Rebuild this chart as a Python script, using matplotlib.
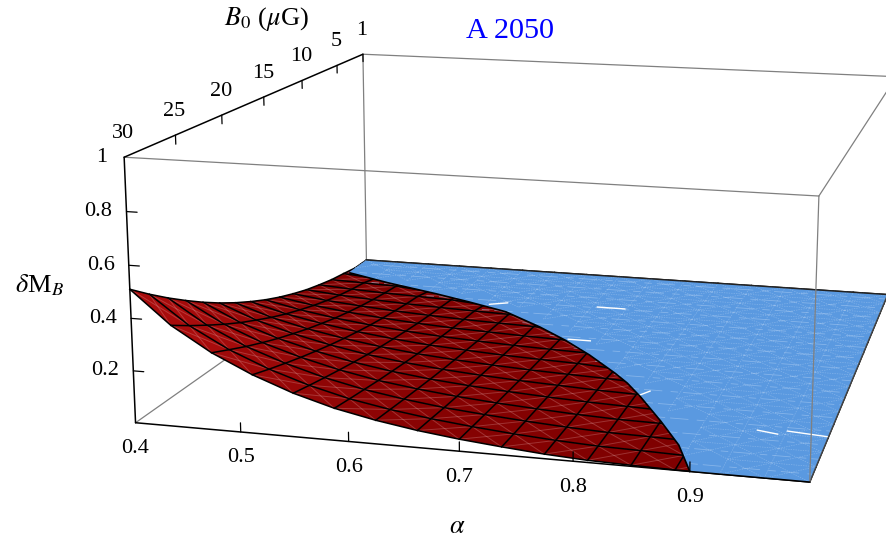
import numpy as np
import matplotlib
matplotlib.use("Agg")
import matplotlib.pyplot as plt
from matplotlib.colors import to_rgb
from mpl_toolkits.mplot3d import proj3d
from mpl_toolkits.mplot3d.art3d import Poly3DCollection, Line3DCollection

plt.rcParams["font.family"] = ["Liberation Serif", "DejaVu Serif"]
plt.rcParams["mathtext.fontset"] = "stix"

alpha_ticks = [0.4, 0.5, 0.6, 0.7, 0.8, 0.9]
b0_ticks = [30, 25, 20, 15, 10, 5, 1]
z_ticks = [0.2, 0.4, 0.6, 0.8, 1]

# mesh nodes of the surface
alpha_nodes = [0.4, 0.4375, 0.475, 0.5125, 0.55, 0.5875, 0.625, 0.6625, 0.7,
               0.7375, 0.775, 0.8125, 0.85, 0.8875, 0.925, 0.9625, 1.0]
b0_nodes = [1, 2.8125, 4.625, 6.4375, 8.25, 10.0625, 11.875, 13.6875, 15.5,
            17.3125, 19.125, 20.9375, 22.75, 24.5625, 26.375, 28.1875, 30]

# delta M_B, one row per alpha node
z_table = np.array([
    [0, 0, 0.012, 0.023, 0.039, 0.057, 0.08, 0.106, 0.136, 0.17, 0.207, 0.248, 0.293, 0.342, 0.394, 0.45, 0.51],
    [0, 0, 0, 0.018, 0.029, 0.043, 0.06, 0.08, 0.103, 0.128, 0.156, 0.188, 0.221, 0.258, 0.298, 0.34, 0.385],
    [0, 0, 0, 0.013, 0.022, 0.033, 0.046, 0.061, 0.078, 0.098, 0.119, 0.143, 0.168, 0.196, 0.226, 0.259, 0.293],
    [0, 0, 0, 0, 0.017, 0.025, 0.035, 0.046, 0.059, 0.074, 0.09, 0.108, 0.128, 0.149, 0.172, 0.196, 0.222],
    [0, 0, 0, 0, 0.012, 0.019, 0.026, 0.034, 0.044, 0.055, 0.067, 0.08, 0.095, 0.111, 0.128, 0.146, 0.165],
    [0, 0, 0, 0, 0, 0.014, 0.019, 0.025, 0.032, 0.04, 0.049, 0.059, 0.07, 0.081, 0.094, 0.107, 0.121],
    [0, 0, 0, 0, 0, 0.01, 0.014, 0.019, 0.024, 0.03, 0.036, 0.043, 0.051, 0.06, 0.069, 0.079, 0.089],
    [0, 0, 0, 0, 0, 0, 0.01, 0.013, 0.017, 0.021, 0.026, 0.031, 0.037, 0.043, 0.049, 0.057, 0.064],
    [0, 0, 0, 0, 0, 0, 0, 0.009, 0.012, 0.015, 0.018, 0.022, 0.026, 0.03, 0.035, 0.04, 0.045],
    [0, 0, 0, 0, 0, 0, 0, 0, 0.008, 0.01, 0.012, 0.015, 0.017, 0.02, 0.023, 0.026, 0.03],
    [0, 0, 0, 0, 0, 0, 0, 0, 0, 0, 0.007, 0.008, 0.01, 0.011, 0.013, 0.015, 0.017],
    [0, 0, 0, 0, 0, 0, 0, 0, 0, 0, 0, 0.004, 0.005, 0.005, 0.006, 0.007, 0.008],
    [0, 0, 0, 0, 0, 0, 0, 0, 0, 0, 0, 0, 0, 0.003, 0.003, 0.004, 0.004],
    [0, 0, 0, 0, 0, 0, 0, 0, 0, 0, 0, 0, 0, 0, 0, 0, 0.001],
    [0] * 17,
    [0] * 17,
    [0] * 17,
])

# where the surface meets the floor
edge_alpha = [0.402, 0.4575, 0.524, 0.567, 0.617, 0.667, 0.704, 0.74, 0.778, 0.796, 0.817, 0.85, 0.878, 0.9]
edge_b0 = [3.9, 5.35, 6.84, 7.9, 9.25, 11.5, 13.4, 15.5, 18.0, 19.3, 21.1, 24.2, 27.0, 30.0]

# white gaps in the floor
gap_alpha = [(0.937, 0.956), (0.963, 0.999), (0.706, 0.736), (0.592, 0.609), (0.706, 0.729), (0.815, 0.822)]
gap_b0 = [(24.3, 24.6), (24.1, 24.4), (7.2, 7.2), (8.1, 7.6), (13.2, 13.2), (20.9, 20.2)]

GRAY = "#808080"
RED_DARK = np.array(to_rgb("#7e0000"))
RED_LIGHT = np.array(to_rgb("#a80c0c"))
BLUE = "#5a99e0"
PALE = "#a9cbf2"

fig = plt.figure(figsize=(8.86, 5.44), dpi=100)

# camera found by fitting the box corners of the reference, axes rect in pixels
left, right = 550.621 - 4817.554 * 0.095, 550.621 + 4817.554 * 0.09
top, bottom = 233.952 - 4817.554 * 0.09, 233.952 + 4817.554 * 0.095
ax = fig.add_axes([left / 886, (544 - bottom) / 544, (right - left) / 886, (bottom - top) / 544],
                  projection="3d", computed_zorder=False)
ax.set_xlim(0.4, 1)
ax.set_ylim(30, 1)
ax.set_zlim(0, 1)
ax.view_init(13.2436, -75.5849, -0.1753)
ax.set_proj_type("persp", focal_length=0.4497)
ax.set_box_aspect((2.499, 2.5882, 1.0))
ax.set_axis_off()


def edge(p, q, color=GRAY, lw=0.9, z=1):
    ax.plot(*zip(p, q), color=color, lw=lw, zorder=z, solid_capstyle="round")


def label(p, text, dx, dy, ha="center", size=16):
    x, y, _ = proj3d.proj_transform(*p, ax.get_proj())
    ax.annotate(text, (x, y), xycoords="data", xytext=(dx * 0.72, dy * 0.72),
                textcoords="offset points", ha=ha, va="center", fontsize=size, zorder=20)


A, B, C, D = (0.4, 30, 1), (0.4, 1, 1), (1, 30, 1), (1, 1, 1)
E, F, G, H = (0.4, 30, 0), (0.4, 1, 0), (1, 30, 0), (1, 1, 0)

for p, q in [(A, C), (B, D), (C, D), (B, F), (E, F), (D, H)]:
    edge(p, q)

# red surface, brighter where it is steep
aa, bb = np.meshgrid(alpha_nodes, b0_nodes, indexing="ij")
slope = np.abs(np.gradient(z_table, alpha_nodes, axis=0))
shade = np.clip(slope / 2.5, 0, 1)[..., None]
face = RED_DARK * (1 - shade) + RED_LIGHT * shade
ax.plot_surface(aa, bb, z_table, facecolors=face, rstride=1, cstride=1, shade=False,
                linewidth=0, antialiased=True, zorder=2)

# pale seams between the triangles
seams = []
for i in range(16):
    for j in range(16):
        p00 = (aa[i, j], bb[i, j], z_table[i, j])
        p01 = (aa[i, j + 1], bb[i, j + 1], z_table[i, j + 1])
        p10 = (aa[i + 1, j], bb[i + 1, j], z_table[i + 1, j])
        p11 = (aa[i + 1, j + 1], bb[i + 1, j + 1], z_table[i + 1, j + 1])
        seams.append([p00, p11])
        seams.append([p10, p01])
ax.add_collection3d(Line3DCollection(seams, colors="#e8b0b0", linewidths=0.7, alpha=0.28, zorder=3))

# black mesh
for i in range(17):
    ax.plot(aa[i], bb[i], z_table[i], color="k", lw=1.1, zorder=4)
for j in range(17):
    ax.plot(aa[:, j], bb[:, j], z_table[:, j], color="k", lw=1.1, zorder=4)

# blue floor painted over the part where the surface is zero
floor = [(a, b, 0) for a, b in zip(edge_alpha, edge_b0)] + [G, H, F, (0.4, edge_b0[0], 0)]
ax.add_collection3d(Poly3DCollection([floor], facecolors=BLUE, edgecolors="none", zorder=5))

# texture on the floor, only on the blue side of the edge
floor_seams = []
for i in range(16):
    b_edge = np.interp(alpha_nodes[i], edge_alpha, edge_b0, right=99)
    for j in range(16):
        if b0_nodes[j + 1] > b_edge and alpha_nodes[i] < 0.9:
            continue
        a0, a1 = alpha_nodes[i], alpha_nodes[i + 1]
        b0, b1 = b0_nodes[j], b0_nodes[j + 1]
        floor_seams.append([(a0, b0, 0), (a1, b1, 0)])
        floor_seams.append([(a1, b0, 0), (a0, b1, 0)])
        floor_seams.append([(a0, b0, 0), (a1, b0, 0)])
        floor_seams.append([(a0, b1, 0), (a0, b0, 0)])
ax.add_collection3d(Line3DCollection(floor_seams, colors=PALE, linewidths=0.5, alpha=0.5,
                                     linestyles=(0, (2, 1.5)), zorder=5.5))
for b in b0_nodes[:-1]:
    a_from = np.interp(b, edge_b0, edge_alpha)
    ax.plot([max(a_from, 0.4) + 0.01, 1], [b + 0.9] * 2, [0, 0], color=PALE, lw=0.6, alpha=0.55,
            ls=(0, (9, 6, 22, 10)), zorder=5.5)
for ga, gb in zip(gap_alpha, gap_b0):
    ax.plot(ga, gb, [0, 0], color="white", lw=1.0, zorder=5.6)

ax.plot(edge_alpha, edge_b0, [0] * len(edge_alpha), color="k", lw=1.2, zorder=6)

edge(F, H, color="#222222", lw=1.0, z=7)
edge(G, H, color="#444444", lw=1.0, z=7)
edge(C, G, z=8)
for p, q in [(A, B), (A, E), (E, G)]:
    edge(p, q, color="k", lw=1.1, z=9)

for a in alpha_ticks[1:]:
    edge((a, 30, 0), (a, 30, 0.035), color="k", lw=0.9, z=9)
for b in b0_ticks[1:]:
    edge((0.4, b, 1), (0.4, b, 0.965), color="k", lw=0.9, z=9)
for v in z_ticks[:-1]:
    edge((0.4, 30, v), (0.41, 30, v), color="k", lw=0.9, z=9)

for a in alpha_ticks:
    label((a, 30, 0), f"{a:g}", 0, -26)
for b in b0_ticks:
    label((0.4, b, 1), f"{b}", -1, 24)
for v in z_ticks:
    label((0.4, 30, v), f"{v:g}", -17 if v == 1 else -14, 0, ha="right")

fig.text(510 / 886, 1 - 31 / 544, "A 2050", color="#0000ff", fontsize=21.8, ha="center", va="center")
fig.text(266 / 886, 1 - 19 / 544, r"$B_0$ ($\mu$G)", fontsize=19, ha="center", va="center")
fig.text(39 / 886, 1 - 285 / 544, r"$\delta$M$_B$", fontsize=19, ha="center", va="center")
fig.text(457 / 886, 1 - 527 / 544, r"$\alpha$", fontsize=19, ha="center", va="center")

fig.savefig("out.png", dpi=100)
